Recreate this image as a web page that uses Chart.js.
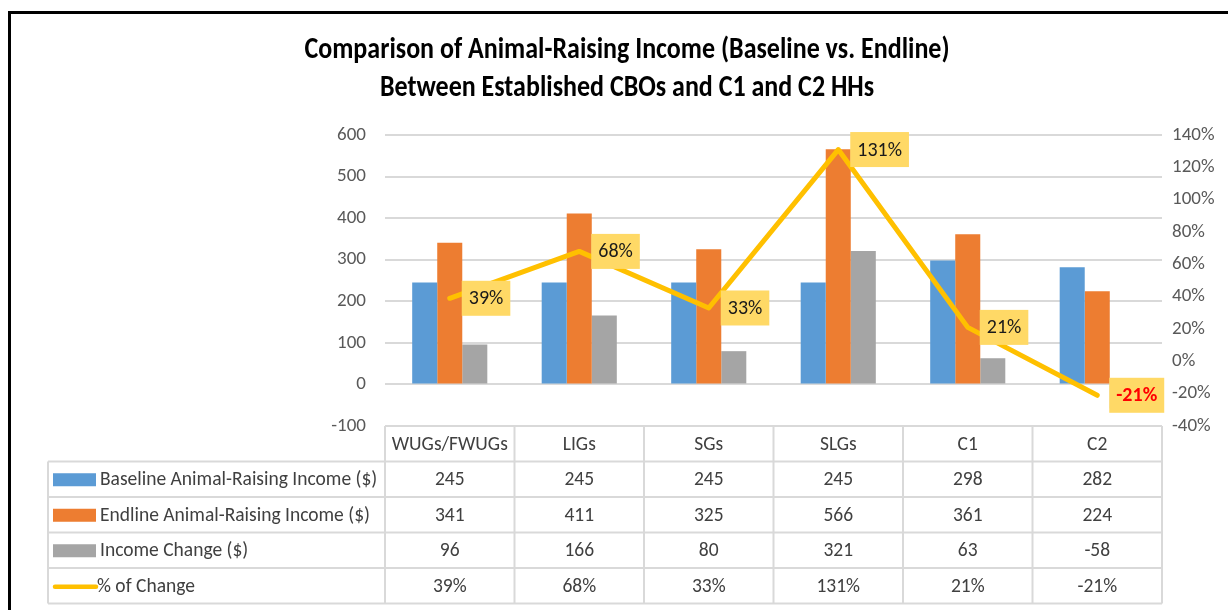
<!DOCTYPE html>
<html>
<head>
<meta charset="utf-8">
<script src="https://cdn.jsdelivr.net/npm/chart.js@4"></script>
<style>
    body { margin: 0; background: #fff; }
    #chart { display: block; }
</style>
</head>
<body>
<canvas id="chart" width="1228" height="610"></canvas>
<script>
// Chart data
const categories = ['WUGs/FWUGs', 'LIGs', 'SGs', 'SLGs', 'C1', 'C2'];
const baselineIncome = [245, 245, 245, 245, 298, 282];
const endlineIncome = [341, 411, 325, 566, 361, 224];
const incomeChange = [96, 166, 80, 321, 63, -58];
const pctChange = [39, 68, 33, 131, 21, -21];

const titleLines = [
    'Comparison of Animal-Raising Income (Baseline vs. Endline)',
    'Between Established CBOs and C1 and C2 HHs'
];

const seriesNames = [
    'Baseline Animal-Raising Income ($)',
    'Endline Animal-Raising Income ($)',
    'Income Change ($)',
    '% of Change'
];

const FONT = 'Carlito, Calibri, "Liberation Sans", sans-serif';
const colors = {
    baseline: '#5B9BD5',
    endline: '#ED7D31',
    change: '#A5A5A5',
    pct: '#FFC000',
    grid: '#D9D9D9',
    label: '#FFD966'
};

// Title + outer frame
const framePlugin = {
    id: 'frame',
    beforeDraw(chart) {
        const ctx = chart.ctx;
        ctx.save();
        ctx.fillStyle = '#000';
        ctx.fillRect(8, 11, 1220, 3);
        ctx.fillRect(8, 11, 3, 599);

        ctx.font = 'bold 26px ' + FONT;
        ctx.textAlign = 'center';
        ctx.textBaseline = 'middle';
        // title in the source is a bit taller than Calibri, stretch it a little
        [50, 88].forEach((y, i) => {
            ctx.save();
            ctx.translate(627, y);
            ctx.scale(1, 1.18);
            ctx.fillText(titleLines[i], 0, 0);
            ctx.restore();
        });
        ctx.restore();
    }
};

// Yellow boxes next to the % points
const pctLabelPlugin = {
    id: 'pctLabels',
    afterDatasetsDraw(chart) {
        const ctx = chart.ctx;
        const meta = chart.getDatasetMeta(3);
        ctx.save();
        meta.data.forEach((pt, i) => {
            const v = pctChange[i];
            const text = v + '%';
            const neg = v < 0;
            ctx.font = (neg ? 'bold ' : '') + '20px ' + FONT;
            const w = ctx.measureText(text).width + 14;
            const h = 35;
            const x = pt.x + 12;
            const y = pt.y - h / 2;
            ctx.fillStyle = colors.label;
            ctx.fillRect(x, y, w, h);
            ctx.fillStyle = neg ? '#FF0000' : '#1a1a1a';
            ctx.textAlign = 'center';
            ctx.textBaseline = 'middle';
            ctx.fillText(text, x + w / 2, pt.y + 1);
        });
        ctx.restore();
    }
};

// Data table under the plot
const tablePlugin = {
    id: 'dataTable',
    afterDraw(chart) {
        const ctx = chart.ctx;
        const area = chart.chartArea;
        const xs = chart.scales.x;
        const colW = (area.right - area.left) / categories.length;
        const top = area.bottom;
        const rowH = 35.5;
        const tableLeft = 48;
        const rows = [baselineIncome, endlineIncome, incomeChange, pctChange];

        ctx.save();
        ctx.strokeStyle = colors.grid;
        ctx.lineWidth = 2;

        // cell borders
        ctx.beginPath();
        ctx.moveTo(area.left, top);
        ctx.lineTo(area.right, top);
        for (let i = 0; i <= categories.length; i++) {
            const x = area.left + i * colW;
            ctx.moveTo(x, top);
            ctx.lineTo(x, top + rowH * 5);
        }
        for (let r = 1; r <= 5; r++) {
            ctx.moveTo(tableLeft, top + r * rowH);
            ctx.lineTo(area.right, top + r * rowH);
        }
        ctx.moveTo(tableLeft, top + rowH);
        ctx.lineTo(tableLeft, top + rowH * 5);
        ctx.stroke();

        ctx.font = '19.5px ' + FONT;
        ctx.fillStyle = '#404040';
        ctx.textBaseline = 'middle';
        ctx.textAlign = 'center';
        categories.forEach((c, i) => {
            ctx.fillText(c, xs.getPixelForValue(i), top + rowH / 2 + 1);
        });

        rows.forEach((vals, r) => {
            const cy = top + rowH * (r + 1) + rowH / 2 + 1;
            ctx.textAlign = 'center';
            ctx.fillStyle = '#404040';
            vals.forEach((v, i) => {
                ctx.fillText(r === 3 ? v + '%' : String(v), xs.getPixelForValue(i), cy);
            });

            // legend key
            if (r < 3) {
                ctx.fillStyle = [colors.baseline, colors.endline, colors.change][r];
                ctx.fillRect(53, cy - 7, 43, 13);
            } else {
                ctx.strokeStyle = colors.pct;
                ctx.lineWidth = 4.5;
                ctx.lineCap = 'round';
                ctx.beginPath();
                ctx.moveTo(55, cy);
                ctx.lineTo(96, cy);
                ctx.stroke();
            }
            ctx.fillStyle = '#404040';
            ctx.textAlign = 'left';
            ctx.fillText(seriesNames[r], r === 3 ? 97 : 100, cy);
        });
        ctx.restore();
    }
};

const ctx = document.getElementById('chart').getContext('2d');
const chart = new Chart(ctx, {
    type: 'bar',
    data: {
        labels: categories,
        datasets: [
            { label: seriesNames[0], data: baselineIncome, backgroundColor: colors.baseline, order: 1, yAxisID: 'y' },
            { label: seriesNames[1], data: endlineIncome, backgroundColor: colors.endline, order: 1, yAxisID: 'y' },
            { label: seriesNames[2], data: incomeChange, backgroundColor: colors.change, order: 1, yAxisID: 'y' },
            {
                type: 'line',
                label: seriesNames[3],
                data: pctChange,
                borderColor: colors.pct,
                borderWidth: 5,
                borderCapStyle: 'round',
                borderJoinStyle: 'round',
                pointRadius: 0,
                tension: 0,
                fill: false,
                order: 0,
                yAxisID: 'y1'
            }
        ]
    },
    options: {
        responsive: false,
        animation: false,
        categoryPercentage: 0.58,
        barPercentage: 1,
        layout: {
            padding: { top: 135, bottom: 184, left: 0, right: 0 }
        },
        plugins: {
            legend: { display: false },
            title: { display: false },
            tooltip: { enabled: false }
        },
        scales: {
            x: {
                display: false
            },
            y: {
                position: 'left',
                min: -100,
                max: 600,
                ticks: {
                    stepSize: 100,
                    padding: 19,
                    color: '#595959',
                    font: { family: FONT, size: 19 }
                },
                grid: { color: colors.grid, lineWidth: 2, drawTicks: false },
                border: { display: false },
                afterFit: s => { s.width = 385; }
            },
            y1: {
                position: 'right',
                min: -40,
                max: 140,
                ticks: {
                    stepSize: 20,
                    padding: 10,
                    color: '#595959',
                    font: { family: FONT, size: 19 },
                    callback: v => v + '%'
                },
                grid: { display: false, drawTicks: false },
                border: { display: false },
                afterFit: s => { s.width = 66; }
            }
        }
    },
    plugins: [framePlugin, pctLabelPlugin, tablePlugin]
});
</script>
</body>
</html>
